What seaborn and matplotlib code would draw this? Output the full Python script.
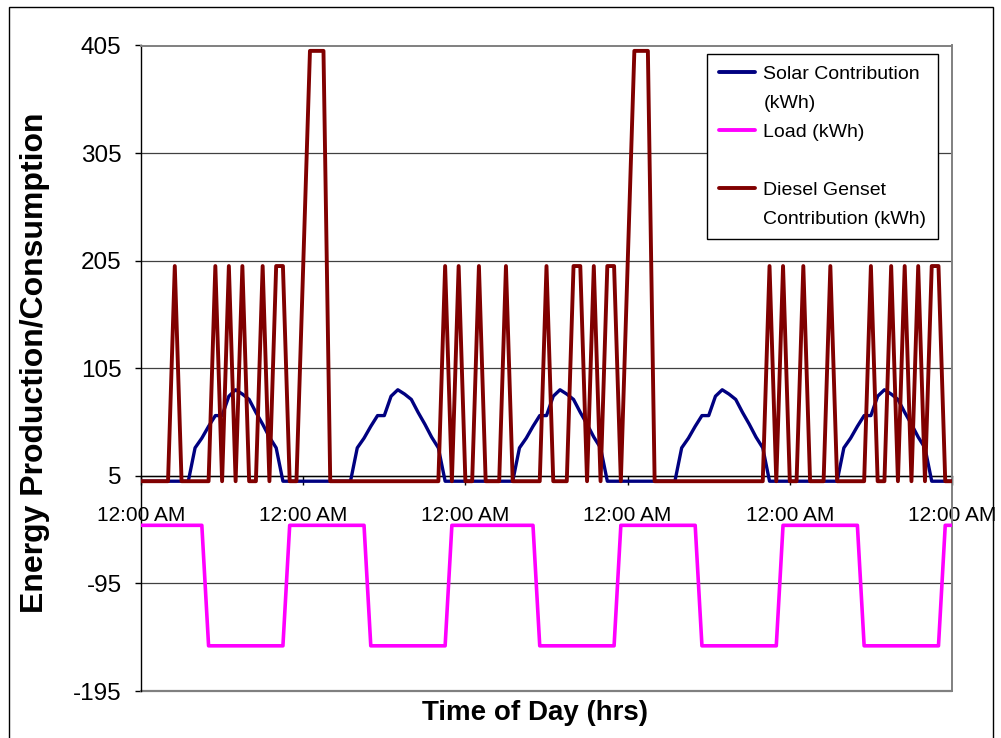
import matplotlib
matplotlib.use("Agg")
import matplotlib.pyplot as plt
import seaborn as sns
import pandas as pd
from matplotlib.patches import Rectangle
from matplotlib.lines import Line2D

# ---------------- data (hourly, 5 days) ----------------
hours = list(range(121))
tick_hours = [0, 24, 48, 72, 96, 120]
tick_labels = ["12:00 AM"] * 6
y_ticks = [-195, -95, 5, 105, 205, 305, 405]

solar = [
    0, 0, 0, 0, 0, 0, 0, 0, 31, 40, 51, 61, 61, 79, 85, 81, 76, 64, 53, 41, 31, 0, 0, 0,
    0, 0, 0, 0, 0, 0, 0, 0, 31, 40, 51, 61, 61, 79, 85, 81, 76, 64, 53, 41, 31, 0, 0, 0,
    0, 0, 0, 0, 0, 0, 0, 0, 31, 40, 51, 61, 61, 79, 85, 81, 76, 64, 53, 41, 31, 0, 0, 0,
    0, 0, 0, 0, 0, 0, 0, 0, 31, 40, 51, 61, 61, 79, 85, 81, 76, 64, 53, 41, 31, 0, 0, 0,
    0, 0, 0, 0, 0, 0, 0, 0, 31, 40, 51, 61, 61, 79, 85, 81, 76, 64, 53, 41, 31, 0, 0, 0,
    0,
]

load = [
    -41, -41, -41, -41, -41, -41, -41, -41, -41, -41,
    -153, -153, -153, -153, -153, -153, -153, -153, -153, -153, -153, -153,
    -41, -41, -41, -41, -41, -41, -41, -41, -41, -41, -41, -41,
    -153, -153, -153, -153, -153, -153, -153, -153, -153, -153, -153, -153,
    -41, -41, -41, -41, -41, -41, -41, -41, -41, -41, -41, -41, -41,
    -153, -153, -153, -153, -153, -153, -153, -153, -153, -153, -153, -153,
    -41, -41, -41, -41, -41, -41, -41, -41, -41, -41, -41, -41,
    -153, -153, -153, -153, -153, -153, -153, -153, -153, -153, -153, -153,
    -41, -41, -41, -41, -41, -41, -41, -41, -41, -41, -41, -41,
    -153, -153, -153, -153, -153, -153, -153, -153, -153, -153, -153, -153,
    -41, -41,
]

diesel = [
    0, 0, 0, 0, 0, 200, 0, 0, 0, 0, 0, 200, 0, 200, 0, 200, 0, 0, 200, 0, 200, 200, 0, 0,
    200, 400, 400, 400, 0, 0, 0, 0, 0, 0, 0, 0, 0, 0, 0, 0, 0, 0, 0, 0, 0, 200, 0, 200,
    0, 0, 200, 0, 0, 0, 200, 0, 0, 0, 0, 0, 200, 0, 0, 0, 200, 200, 0, 200, 0, 200, 200, 0,
    200, 400, 400, 400, 0, 0, 0, 0, 0, 0, 0, 0, 0, 0, 0, 0, 0, 0, 0, 0, 0, 200, 0, 200,
    0, 0, 200, 0, 0, 0, 200, 0, 0, 0, 0, 0, 200, 0, 0, 200, 0, 200, 0, 200, 0, 200, 200, 0,
    0,
]

series_names = ["Solar Contribution (kWh)", "Load (kWh)", "Diesel Genset Contribution (kWh)"]
legend_rows = [("Solar Contribution", 0), ("(kWh)", None), ("Load (kWh)", 1), ("", None),
               ("Diesel Genset", 2), ("Contribution (kWh)", None)]
series_colors = ["#000080", "#FF00FF", "#800000"]

df = pd.DataFrame({"hour": hours, "solar": solar, "load": load, "diesel": diesel})

# ---------------- style ----------------
sns.set_style("white")
plt.rcParams["font.family"] = ["Liberation Sans", "DejaVu Sans"]
plt.rcParams["text.color"] = "black"
plt.rcParams["xtick.color"] = "black"
plt.rcParams["ytick.color"] = "black"

fig = plt.figure(figsize=(10.01, 7.38), dpi=100)
ax = fig.add_axes([141 / 1001, 47 / 738, 811 / 1001, 645.5 / 738])

lw_s = [2.4, 2.6, 2.8]
sns.lineplot(data=df, x="hour", y="solar", ax=ax, color=series_colors[0], lw=lw_s[0],
             label=series_names[0], zorder=3, legend=False)
sns.lineplot(data=df, x="hour", y="load", ax=ax, color=series_colors[1], lw=lw_s[1],
             label=series_names[1], zorder=3, legend=False)
sns.lineplot(data=df, x="hour", y="diesel", ax=ax, color=series_colors[2], lw=lw_s[2],
             label=series_names[2], zorder=4, legend=False)

ax.set_xlim(0, 120)
ax.set_ylim(-195, 405)
ax.set_xlabel("")
ax.set_ylabel("")

# grid
ax.set_axisbelow(True)
ax.yaxis.grid(True, color="#404040", lw=0.9)
ax.xaxis.grid(False)

# spines
ax.spines["bottom"].set_position(("data", 5))
ax.spines["bottom"].set_color("black")
ax.spines["bottom"].set_linewidth(1.0)
ax.spines["bottom"].set_zorder(2)
ax.spines["left"].set_color("black")
ax.spines["left"].set_linewidth(1.0)
for s in ["top", "right"]:
    ax.spines[s].set_color("#808080")
    ax.spines[s].set_linewidth(1.4)
    ax.spines[s].set_visible(True)
ax.axhline(-195, color="#808080", lw=1.6, clip_on=False, zorder=1)

# ticks
ax.set_xticks(tick_hours)
ax.set_xticklabels(tick_labels)
ax.set_yticks(y_ticks)
ax.set_yticklabels([str(v) for v in y_ticks])
ax.tick_params(axis="x", direction="out", length=6.5, width=1.0, color="black",
               labelsize=15, pad=15, bottom=True, labelcolor="black")
ax.tick_params(axis="y", direction="out", length=4, width=1.0, color="black",
               labelsize=17.5, pad=10, left=True, labelcolor="black")

# legend (line sample aligned with the first text line of each entry)
handles, labels = [], []
for text, idx in legend_rows:
    if idx is None:
        handles.append(Line2D([], [], color="none", lw=0))
    else:
        handles.append(Line2D([], [], color=series_colors[idx], lw=2.8))
    labels.append(text)
leg = ax.legend(handles, labels, loc="upper left", bbox_to_anchor=(0.698, 0.987),
                frameon=True, fancybox=False, shadow=False, fontsize=14,
                handlelength=1.85, handletextpad=0.45, labelspacing=0.58,
                borderpad=0.6, borderaxespad=0)
leg.get_frame().set_edgecolor("black")
leg.get_frame().set_linewidth(1.0)
leg.get_frame().set_facecolor("white")
leg.get_frame().set_alpha(1.0)

# axis titles
fig.text(35 / 1001, 1 - 363 / 738, "Energy Production/Consumption", rotation=90,
         ha="center", va="center", fontsize=23, fontweight="bold")
fig.text(535 / 1001, 1 - 713 / 738, "Time of Day (hrs)", ha="center", va="center",
         fontsize=20, fontweight="bold")

# outer chart border
fig.patches.append(Rectangle((9 / 1001, -0.05), (993 - 9) / 1001, (1.05 - 7 / 738),
                             transform=fig.transFigure, fill=False, edgecolor="black",
                             lw=1.0, figure=fig))

fig.savefig("out.png", dpi=100)
